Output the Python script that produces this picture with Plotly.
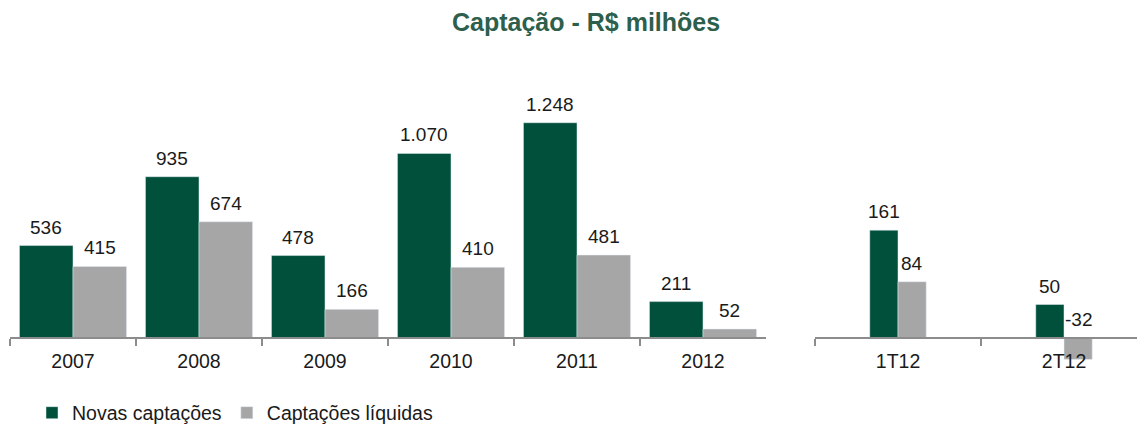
import plotly.graph_objects as go

# ---- data ----
years = ["2007", "2008", "2009", "2010", "2011", "2012"]
novas_anual = [536, 935, 478, 1070, 1248, 211]
liquidas_anual = [415, 674, 166, 410, 481, 52]

trimestres = ["1T12", "2T12"]
novas_tri = [161, 50]
liquidas_tri = [84, -32]

series_names = ["Novas captações", "Captações líquidas"]
title_text = "Captação - R$ milhões"

GREEN = "#00503B"
GRAY = "#A6A6A6"
AXIS = "#8C8C8C"
FONT = "Liberation Sans, Arial, sans-serif"

W, H = 1137, 425


def fmt(v):
    return f"{v:,}".replace(",", ".")


fig = go.Figure()

# left panel bars
fig.add_trace(go.Bar(x=years, y=novas_anual, name=series_names[0], marker_color=GREEN,
                     width=0.425, offset=-0.425, xaxis="x", yaxis="y"))
fig.add_trace(go.Bar(x=years, y=liquidas_anual, name=series_names[1], marker_color=GRAY,
                     width=0.425, offset=0, xaxis="x", yaxis="y"))
# right panel bars
fig.add_trace(go.Bar(x=trimestres, y=novas_tri, name=series_names[0], marker_color=GREEN,
                     width=0.17, offset=-0.17, xaxis="x2", yaxis="y2", showlegend=False))
fig.add_trace(go.Bar(x=trimestres, y=liquidas_tri, name=series_names[1], marker_color=GRAY,
                     width=0.17, offset=0, xaxis="x2", yaxis="y2", showlegend=False))

annotations = []
def add_labels(cats, vals, xref, yref, shift):
    for i, v in enumerate(vals):
        annotations.append(dict(x=i, y=max(v, 0), xref=xref, yref=yref, text=fmt(v),
                                showarrow=False, yanchor="bottom", xshift=shift, yshift=6,
                                font=dict(size=19, color="#1a1a1a", family=FONT)))

add_labels(years, novas_anual, "x", "y", -26.8)
add_labels(years, liquidas_anual, "x", "y", 26.8)
add_labels(trimestres, novas_tri, "x2", "y2", -14.1)
add_labels(trimestres, liquidas_tri, "x2", "y2", 14.1)

annotations.append(dict(x=586 / W, y=1 - 22 / H, xref="paper", yref="paper", text=f"<b>{title_text}</b>",
                        showarrow=False, xanchor="center", yanchor="middle",
                        font=dict(size=25, color="#2D5F4C", family=FONT)))

top_px, bot_px, zero_px = 60, 380, 338
dom_y = [1 - bot_px / H, 1 - top_px / H]
axis_pos = 1 - zero_px / H
s_left = 0.1725
s_right = 0.67

xaxis_common = dict(type="category", showline=True, linecolor=AXIS, linewidth=2,
                    ticks="outside", tickson="boundaries", ticklen=7, tickwidth=2, tickcolor=AXIS,
                    showgrid=False, zeroline=False, anchor="free", position=axis_pos,
                    ticklabelstandoff=6,
                    tickfont=dict(size=19.5, color="#1a1a1a", family=FONT))

fig.update_layout(
    width=W, height=H,
    margin=dict(l=0, r=0, t=0, b=0, autoexpand=False),
    paper_bgcolor="white", plot_bgcolor="rgba(0,0,0,0)",
    barmode="overlay",
    showlegend=True,
    legend=dict(orientation="h", x=32 / W, y=1 - 413 / H, xanchor="left", yanchor="middle",
                font=dict(size=19.5, color="#1a1a1a", family=FONT),
                bgcolor="rgba(0,0,0,0)"),
    xaxis=dict(domain=[10 / W, 766 / W], range=[-0.5, 5.5], **xaxis_common),
    xaxis2=dict(domain=[815 / W, 1.0], range=[-0.5, -0.5 + 322 / 166], **xaxis_common),
    yaxis=dict(domain=dom_y, range=[-(bot_px - zero_px) / s_left, (zero_px - top_px) / s_left],
               visible=False, showgrid=False, zeroline=False),
    yaxis2=dict(domain=dom_y, range=[-(bot_px - zero_px) / s_right, (zero_px - top_px) / s_right],
                visible=False, showgrid=False, zeroline=False, anchor="x2"),
    annotations=annotations,
)

post = ("document.documentElement.style.margin='0';document.body.style.margin='0';"
        "document.documentElement.style.overflow='hidden';document.body.style.overflow='hidden';"
        "var gd=document.getElementById('{plot_id}');"
        "gd.style.position='fixed';gd.style.top='0px';gd.style.left='0px';")

fig.write_html("out.html", config={"displayModeBar": False}, post_script=post)
